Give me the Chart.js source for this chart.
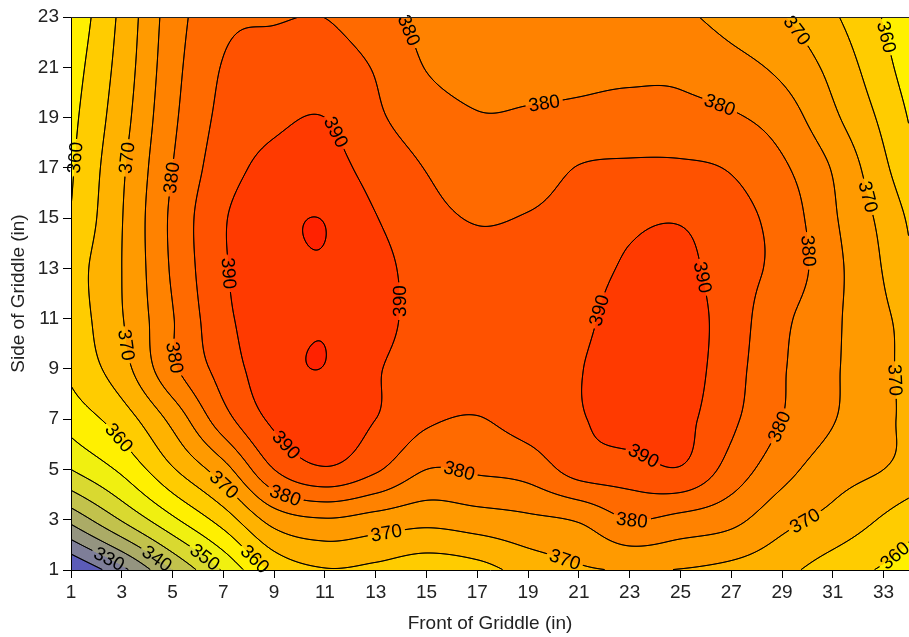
<!DOCTYPE html>
<html>
<head>
<meta charset="utf-8">
<script src="https://cdn.jsdelivr.net/npm/chart.js@4.4.1/dist/chart.umd.min.js"></script>
<style>
html,body{margin:0;padding:0;background:#fff;}
#wrap{width:909px;height:637px;}
</style>
</head>
<body>
<div id="wrap"><canvas id="c" width="909" height="637"></canvas></div>
<script>
// ---- data: griddle temperature (deg) on a 2-inch node grid ----
const frontInches = [1,3,5,7,9,11,13,15,17,19,21,23,25,27,29,31,33,35];
const sideInches  = [1,3,5,7,9,11,13,15,17,19,21,23];
const tempSide1  = [319.5,328.5,340,350.5,361,364.6,363.6,361.6,363,367,369.3,370.2,369.8,368.5,366.3,362.5,359.4,356];
const tempSide3  = [336.4,345.4,354,362.2,372,374.6,373,371.5,372.7,374,375.5,380,378.5,376.4,371.6,368.4,364.4,359.5];
const tempSide5  = [350,356,364.5,373,385,389.5,385.7,380,380.7,382,387,387.8,389.6,383,376.8,372.3,370,367];
const tempSide7  = [357,362.5,371.5,383,391,392.5,390,385.8,384.8,387,389.5,392.5,391.5,386,380,375.3,371,367];
const tempSide9  = [361,368,379,387,393.2,394.9,390.5,387.5,386.5,387.5,389.7,393.5,392.5,387,380.5,375.7,371,366.5];
const tempSide11 = [362,369.7,379.7,388.7,393,394.75,392,387.8,386.8,388,388.5,393,392.5,387.5,381.2,376,370.7,367];
const tempSide13 = [362.5,370,380.7,389.4,393.4,394.75,391.8,387.6,386.3,387,387.5,390.8,391.5,387,383.5,376.5,369.7,362];
const tempSide15 = [360.3,369.8,381,389.5,393.6,394.86,390.2,386.5,384.7,385.3,387,389,389.6,386.8,383,375.7,368.5,360];
const tempSide17 = [359.4,369.2,380,387.7,391.5,392,388,384.8,382,382.5,385.2,385.8,385.8,384.6,380.8,374.6,366,357];
const tempSide19 = [358.6,368,379,386.3,389,390,385.8,382.5,380.3,380.5,381,381.5,381.4,380.6,377.6,371,363.8,355.5];
const tempSide21 = [357.5,367,378.2,385.3,387,387.3,384.6,379.8,378,378.5,379,379.2,379,376.8,373.8,368.5,361.5,354];
const tempSide23 = [356,366.2,377.5,383.8,384.6,384.95,382,378.5,377.5,377.5,377.5,377.3,376,373,370.3,365.7,359.7,353];
const tempRows = [tempSide1,tempSide3,tempSide5,tempSide7,tempSide9,tempSide11,tempSide13,tempSide15,tempSide17,tempSide19,tempSide21,tempSide23];

const contourLevels = [325,330,335,340,345,350,355,360,365,370,375,380,385,390,395,400];
// contour labels: [level, approx front, approx side]
const contourLabels = [
 [330,2.58,1.6],[340,4.43,1.52],[350,6.28,1.52],[360,8.25,1.44],
 [360,2.93,6.3],[370,6.71,4.02],[380,9.46,4.02],[390,9.5,6.0],
 [380,5.2,9.47],[370,3.17,9.95],[390,7.15,12.8],
 [360,1.16,17.4],[370,3.13,17.4],[380,4.98,16.6],
 [390,11.4,18.4],[380,14.15,22.4],[390,13.85,11.7],
 [380,19.66,19.4],[380,26.55,19.5],[370,29.5,22.4],[360,33.1,22.2],
 [370,32.2,15.8],[380,30.1,13.7],[390,25.9,12.65],[390,21.9,11.3],
 [380,28.9,6.7],[390,23.5,5.45],[380,23.1,3.07],[370,33.3,8.55],
 [370,29.95,2.87],[360,33.5,1.5],[380,16.3,4.98],[370,13.45,2.3],[370,20.4,1.27]
];
// labels whose text reads the other way along the line (indices into contourLabels)
const reversedLabels = [16];
const xTickValues = [1,3,5,7,9,11,13,15,17,19,21,23,25,27,29,31,33];
const yTickValues = [1,3,5,7,9,11,13,15,17,19,21,23];

// ---- styles ----
const bandColors = ['#5c5cb8','#7e7e98','#949480','#abab66','#c2c24c','#d9d930','#f0f010','#fff000',
  '#ffcc00','#ffb200','#ff9a00','#ff8200','#ff6a00','#ff5200','#ff3a00','#ff2200','#ff0000'];
const FONT = '"Liberation Sans", Arial, Helvetica, sans-serif';

// ---- interpolation (Catmull-Rom, tensor product) ----
function cr(p0,p1,p2,p3,t){
  return 0.5*((2*p1)+(-p0+p2)*t+(2*p0-5*p1+4*p2-p3)*t*t+(-p0+3*p1-3*p2+p3)*t*t*t);
}
function rowGet(r,i){const n=r.length; if(i<0) return 2*r[0]-r[1]; if(i>=n) return 2*r[n-1]-r[n-2]; return r[i];}
function interpRow(r,x){
  const step=frontInches[1]-frontInches[0];
  const u=(x-frontInches[0])/step; let k=Math.floor(u); k=Math.max(0,Math.min(r.length-2,k));
  const t=u-k;
  return cr(rowGet(r,k-1),rowGet(r,k),rowGet(r,k+1),rowGet(r,k+2),t);
}
const ghostLow = tempRows[0].map((v,i)=>2*v-tempRows[1][i]);
const ghostHigh = tempRows[tempRows.length-1].map((v,i)=>2*v-tempRows[tempRows.length-2][i]);
function rowExt(j){ if(j<0) return ghostLow; if(j>=tempRows.length) return ghostHigh; return tempRows[j]; }
function fieldAt(x,y){
  const step=sideInches[1]-sideInches[0];
  const u=(y-sideInches[0])/step; let k=Math.floor(u); k=Math.max(0,Math.min(tempRows.length-2,k));
  const t=u-k;
  return cr(interpRow(rowExt(k-1),x),interpRow(rowExt(k),x),interpRow(rowExt(k+1),x),interpRow(rowExt(k+2),x),t);
}
function hexRgb(h){return [parseInt(h.slice(1,3),16),parseInt(h.slice(3,5),16),parseInt(h.slice(5,7),16)];}

const contourPlugin = {
  id:'contour',
  beforeDraw(chart){
    const {ctx, chartArea} = chart;
    const xs=chart.scales.x, ys=chart.scales.y;
    const left=Math.round(chartArea.left), top=Math.round(chartArea.top);
    const W=Math.round(chartArea.right)-left, H=Math.round(chartArea.bottom)-top;
    const colX=new Float64Array(W);
    for(let i=0;i<W;i++) colX[i]=xs.getValueForPixel(left+i+0.5);
    const R=tempRows.length;
    const rowVals=[];
    for(let j=-1;j<=R;j++){
      const r=rowExt(j); const arr=new Float64Array(W);
      for(let i=0;i<W;i++) arr[i]=interpRow(r,colX[i]);
      rowVals.push(arr);
    }
    const V=new Float64Array(W*H);
    const stepY=sideInches[1]-sideInches[0];
    for(let j=0;j<H;j++){
      const y=ys.getValueForPixel(top+j+0.5);
      const u=(y-sideInches[0])/stepY; let k=Math.floor(u); k=Math.max(0,Math.min(R-2,k));
      const t=u-k;
      const a0=rowVals[k], a1=rowVals[k+1], a2=rowVals[k+2], a3=rowVals[k+3];
      for(let i=0;i<W;i++) V[j*W+i]=cr(a0[i],a1[i],a2[i],a3[i],t);
    }
    const rgb=bandColors.map(hexRgb);
    const img=ctx.createImageData(W,H);
    const nL=contourLevels.length;
    for(let p=0;p<W*H;p++){
      const v=V[p]; let k=0; while(k<nL && v>=contourLevels[k]) k++;
      const c=rgb[k]; img.data[4*p]=c[0]; img.data[4*p+1]=c[1]; img.data[4*p+2]=c[2]; img.data[4*p+3]=255;
    }
    ctx.putImageData(img,left,top);

    const fp=(px,py)=>fieldAt(xs.getValueForPixel(px),ys.getValueForPixel(py));
    ctx.font='19px '+FONT;
    const labels=contourLabels.map(([lv,lx,ly],idx)=>{
      let px=xs.getPixelForValue(lx), py=ys.getPixelForValue(ly);
      for(let it=0;it<30;it++){
        const v=fp(px,py);
        const gx=(fp(px+1,py)-fp(px-1,py))/2, gy=(fp(px,py+1)-fp(px,py-1))/2;
        const g2=gx*gx+gy*gy; if(g2<1e-9) break;
        let dx=-(v-lv)*gx/g2, dy=-(v-lv)*gy/g2;
        const m=Math.hypot(dx,dy); if(m>4){dx*=4/m;dy*=4/m;}
        px+=dx; py+=dy;
        if(Math.abs(v-lv)<1e-3) break;
      }
      const gx=(fp(px+1,py)-fp(px-1,py))/2, gy=(fp(px,py+1)-fp(px,py-1))/2;
      let ang=Math.atan2(gx,-gy);
      if(ang>Math.PI/2) ang-=Math.PI;
      if(ang<=-Math.PI/2) ang+=Math.PI;
      if(reversedLabels.includes(idx)) ang+=Math.PI;
      const text=String(lv);
      const w=ctx.measureText(text).width;
      return {px,py,ang,text,hw:w/2+3,hh:8};
    });

    ctx.save();
    ctx.beginPath();
    ctx.rect(left,top,W,H);
    labels.forEach(L=>{
      const c=Math.cos(L.ang), s=Math.sin(L.ang);
      const pts=[[-L.hw,-L.hh],[L.hw,-L.hh],[L.hw,L.hh],[-L.hw,L.hh]].map(([a,b])=>[L.px+a*c-b*s,L.py+a*s+b*c]);
      ctx.moveTo(pts[0][0],pts[0][1]); for(let q=1;q<4;q++) ctx.lineTo(pts[q][0],pts[q][1]); ctx.closePath();
    });
    ctx.clip('evenodd');
    ctx.beginPath();
    const ox=left+0.5, oy=top+0.5;
    for(let j=0;j<H-1;j++){
      for(let i=0;i<W-1;i++){
        const a=V[j*W+i], b=V[j*W+i+1], c=V[(j+1)*W+i+1], d=V[(j+1)*W+i];
        let mn=a,mx=a; if(b<mn)mn=b; if(b>mx)mx=b; if(c<mn)mn=c; if(c>mx)mx=c; if(d<mn)mn=d; if(d>mx)mx=d;
        for(let k=0;k<nL;k++){
          const lv=contourLevels[k];
          if(lv<=mn||lv>mx) continue;
          const P=[];
          if((a>=lv)!==(b>=lv)) P.push([i+(lv-a)/(b-a),j]);
          if((b>=lv)!==(c>=lv)) P.push([i+1,j+(lv-b)/(c-b)]);
          if((d>=lv)!==(c>=lv)) P.push([i+(lv-d)/(c-d),j+1]);
          if((a>=lv)!==(d>=lv)) P.push([i,j+(lv-a)/(d-a)]);
          if(P.length===2){
            ctx.moveTo(ox+P[0][0],oy+P[0][1]); ctx.lineTo(ox+P[1][0],oy+P[1][1]);
          } else if(P.length===4){
            const ctr=(a+b+c+d)/4;
            if((ctr>=lv)===(a>=lv)){
              ctx.moveTo(ox+P[0][0],oy+P[0][1]); ctx.lineTo(ox+P[1][0],oy+P[1][1]);
              ctx.moveTo(ox+P[2][0],oy+P[2][1]); ctx.lineTo(ox+P[3][0],oy+P[3][1]);
            } else {
              ctx.moveTo(ox+P[3][0],oy+P[3][1]); ctx.lineTo(ox+P[0][0],oy+P[0][1]);
              ctx.moveTo(ox+P[1][0],oy+P[1][1]); ctx.lineTo(ox+P[2][0],oy+P[2][1]);
            }
          }
        }
      }
    }
    ctx.lineWidth=1; ctx.strokeStyle='#000'; ctx.lineCap='round';
    ctx.stroke();
    ctx.restore();

    ctx.save();
    ctx.fillStyle='#000'; ctx.font='19px '+FONT; ctx.textAlign='center'; ctx.textBaseline='middle';
    labels.forEach(L=>{
      ctx.save(); ctx.translate(L.px,L.py); ctx.rotate(L.ang); ctx.fillText(L.text,0,1); ctx.restore();
    });
    ctx.restore();
  },
  afterDraw(chart){
    const {ctx, chartArea}=chart;
    ctx.save(); ctx.strokeStyle='#222'; ctx.lineWidth=1;
    ctx.beginPath(); ctx.moveTo(chartArea.left,Math.round(chartArea.top)+0.5); ctx.lineTo(chartArea.right,Math.round(chartArea.top)+0.5); ctx.stroke();
    ctx.restore();
  }
};

const nodePoints=[];
sideInches.forEach((y,j)=>frontInches.forEach((x,i)=>nodePoints.push({x,y,v:tempRows[j][i]})));

new Chart(document.getElementById('c'),{
  type:'scatter',
  data:{datasets:[{data:nodePoints,pointRadius:0,showLine:false}]},
  options:{
    responsive:false, animation:false, devicePixelRatio:1,
    layout:{padding:{top:17,right:0,left:0,bottom:0}},
    plugins:{legend:{display:false},tooltip:{enabled:false}},
    scales:{
      x:{type:'linear',min:1,max:34,
        afterBuildTicks:s=>{s.ticks=xTickValues.map(v=>({value:v}));},
        afterFit:s=>{s.height=67;},
        ticks:{font:{family:FONT,size:19},color:'#222',padding:3,maxRotation:0,autoSkip:false},
        grid:{display:true,drawOnChartArea:false,drawTicks:true,tickLength:8,color:'#000'},
        border:{display:true,color:'#000',width:1},
        title:{display:true,text:'Front of Griddle (in)',font:{family:FONT,size:19},color:'#222',padding:{top:0,bottom:2}}
      },
      y:{type:'linear',min:1,max:23,
        afterBuildTicks:s=>{s.ticks=yTickValues.map(v=>({value:v}));},
        afterFit:s=>{s.width=71;},
        ticks:{font:{family:FONT,size:19},color:'#222',padding:4,autoSkip:false},
        grid:{display:true,drawOnChartArea:false,drawTicks:true,tickLength:8,color:'#000'},
        border:{display:true,color:'#000',width:1},
        title:{display:true,text:'Side of Griddle (in)',font:{family:FONT,size:19},color:'#222',padding:{top:7,bottom:0}}
      }
    }
  },
  plugins:[contourPlugin]
});
</script>
</body>
</html>
